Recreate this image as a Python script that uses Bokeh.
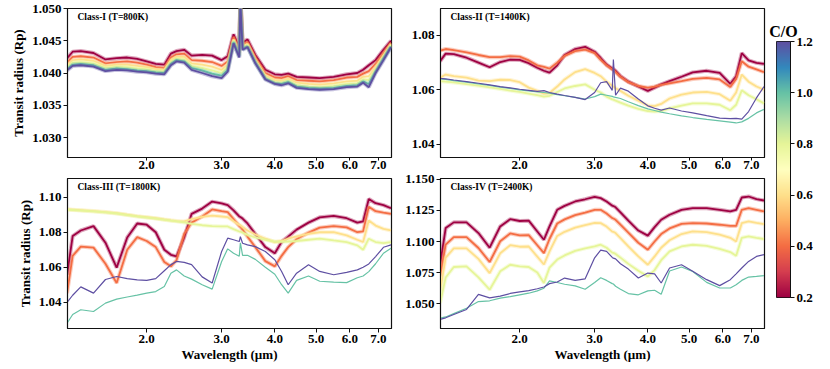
import numpy as np
from bokeh.plotting import figure
from bokeh.models import Range1d, FixedTicker, PrintfTickFormatter, Label, LinearAxis, LinearColorMapper
from bokeh.layouts import row, column
from bokeh.embed import file_html
from bokeh.resources import INLINE

# ---------------- data ----------------
co_values = [0.2, 0.4, 0.6, 0.8, 1.0, 1.2]
wavelength = [1.30, 1.34, 1.40, 1.50, 1.60, 1.70, 1.80, 1.90,
              2.00, 2.10, 2.20, 2.28, 2.35, 2.45, 2.55, 2.70,
              2.85, 3.00, 3.10, 3.20, 3.30, 3.32, 3.36, 3.45,
              3.60, 3.80, 4.00, 4.15, 4.30, 4.50, 4.80, 5.10,
              5.50, 5.90, 6.25, 6.45, 6.65, 6.90, 7.20, 7.50]

# Class-I (T=800K)
p1_co02 = [1.0423, 1.0433, 1.0434, 1.0431, 1.0421, 1.0423, 1.0424, 1.0422,
           1.0418, 1.0414, 1.0413, 1.0430, 1.0434, 1.0436, 1.0427, 1.0428,
           1.0427, 1.0420, 1.0426, 1.0460, 1.0440, 1.0520, 1.0447, 1.0452,
           1.0428, 1.0405, 1.0398, 1.0397, 1.0399, 1.0394, 1.0393, 1.0392,
           1.0394, 1.0398, 1.0400, 1.0405, 1.0412, 1.0420, 1.0436, 1.0450]
p1_co04 = [1.0416, 1.0425, 1.0426, 1.0424, 1.0415, 1.0417, 1.0418, 1.0416,
           1.0413, 1.0409, 1.0408, 1.0424, 1.0429, 1.0430, 1.0420, 1.0419,
           1.0417, 1.0411, 1.0418, 1.0456, 1.0435, 1.0518, 1.0444, 1.0448,
           1.0424, 1.0400, 1.0393, 1.0392, 1.0395, 1.0389, 1.0388, 1.0387,
           1.0389, 1.0393, 1.0394, 1.0399, 1.0403, 1.0414, 1.0431, 1.0447]
p1_co06 = [1.0412, 1.0420, 1.0421, 1.0419, 1.0411, 1.0413, 1.0413, 1.0411,
           1.0409, 1.0406, 1.0405, 1.0420, 1.0425, 1.0425, 1.0415, 1.0413,
           1.0410, 1.0405, 1.0413, 1.0452, 1.0431, 1.0516, 1.0441, 1.0445,
           1.0420, 1.0396, 1.0389, 1.0388, 1.0391, 1.0385, 1.0383, 1.0382,
           1.0384, 1.0387, 1.0388, 1.0394, 1.0395, 1.0409, 1.0427, 1.0445]
p1_co08 = [1.0409, 1.0416, 1.0417, 1.0415, 1.0408, 1.0410, 1.0409, 1.0407,
           1.0406, 1.0403, 1.0402, 1.0417, 1.0422, 1.0421, 1.0411, 1.0408,
           1.0404, 1.0400, 1.0409, 1.0450, 1.0428, 1.0514, 1.0439, 1.0443,
           1.0418, 1.0393, 1.0386, 1.0385, 1.0388, 1.0381, 1.0379, 1.0378,
           1.0380, 1.0383, 1.0384, 1.0390, 1.0389, 1.0405, 1.0424, 1.0443]
p1_co10 = [1.0406, 1.0413, 1.0414, 1.0412, 1.0405, 1.0407, 1.0406, 1.0404,
           1.0403, 1.0401, 1.0400, 1.0414, 1.0420, 1.0418, 1.0408, 1.0404,
           1.0399, 1.0396, 1.0405, 1.0448, 1.0426, 1.0512, 1.0437, 1.0441,
           1.0416, 1.0391, 1.0384, 1.0383, 1.0386, 1.0379, 1.0377, 1.0376,
           1.0377, 1.0380, 1.0381, 1.0387, 1.0383, 1.0402, 1.0422, 1.0441]
p1_co12 = [1.0404, 1.0411, 1.0412, 1.0410, 1.0403, 1.0405, 1.0404, 1.0402,
           1.0401, 1.0399, 1.0398, 1.0412, 1.0418, 1.0416, 1.0405, 1.0400,
           1.0395, 1.0392, 1.0402, 1.0446, 1.0424, 1.0510, 1.0436, 1.0440,
           1.0415, 1.0390, 1.0383, 1.0381, 1.0384, 1.0377, 1.0375, 1.0374,
           1.0375, 1.0378, 1.0379, 1.0385, 1.0378, 1.0400, 1.0420, 1.0440]

# Class-II (T=1400K)
p2_co02 = [1.0705, 1.0733, 1.0731, 1.0718, 1.0700, 1.0683, 1.0702, 1.0711,
           1.0710, 1.0698, 1.0681, 1.0670, 1.0663, 1.0690, 1.0728, 1.0750,
           1.0758, 1.0740, 1.0717, 1.0693, 1.0678, 1.0676, 1.0670, 1.0650,
           1.0630, 1.0612, 1.0596, 1.0608, 1.0620, 1.0632, 1.0648, 1.0664,
           1.0670, 1.0662, 1.0622, 1.0650, 1.0735, 1.0708, 1.0699, 1.0695]
p2_co04 = [1.0744, 1.0750, 1.0746, 1.0738, 1.0728, 1.0720, 1.0720, 1.0724,
           1.0722, 1.0708, 1.0690, 1.0684, 1.0678, 1.0700, 1.0725, 1.0742,
           1.0748, 1.0735, 1.0710, 1.0690, 1.0675, 1.0673, 1.0665, 1.0648,
           1.0628, 1.0614, 1.0608, 1.0612, 1.0618, 1.0624, 1.0632, 1.0640,
           1.0644, 1.0638, 1.0610, 1.0640, 1.0705, 1.0685, 1.0675, 1.0665]
p2_co06 = [1.0644, 1.0656, 1.0650, 1.0645, 1.0634, 1.0632, 1.0637, 1.0636,
           1.0628, 1.0608, 1.0596, 1.0586, 1.0588, 1.0612, 1.0638, 1.0665,
           1.0676, 1.0662, 1.0650, 1.0630, 1.0615, 1.0612, 1.0606, 1.0596,
           1.0578, 1.0560, 1.0542, 1.0540, 1.0548, 1.0568, 1.0582, 1.0590,
           1.0592, 1.0584, 1.0560, 1.0590, 1.0656, 1.0630, 1.0612, 1.0600]
p2_co08 = [1.0632, 1.0630, 1.0627, 1.0621, 1.0615, 1.0609, 1.0603, 1.0597,
           1.0592, 1.0586, 1.0580, 1.0575, 1.0578, 1.0592, 1.0605, 1.0614,
           1.0620, 1.0600, 1.0590, 1.0575, 1.0565, 1.0564, 1.0560, 1.0553,
           1.0542, 1.0530, 1.0522, 1.0520, 1.0522, 1.0532, 1.0542, 1.0550,
           1.0550, 1.0545, 1.0525, 1.0545, 1.0598, 1.0580, 1.0565, 1.0550]
p2_co10 = [1.0640, 1.0638, 1.0634, 1.0628, 1.0622, 1.0616, 1.0610, 1.0605,
           1.0600, 1.0596, 1.0592, 1.0590, 1.0588, 1.0582, 1.0578, 1.0572,
           1.0566, 1.0575, 1.0584, 1.0580, 1.0576, 1.0574, 1.0572, 1.0568,
           1.0556, 1.0542, 1.0530, 1.0524, 1.0518, 1.0512, 1.0504, 1.0498,
           1.0491, 1.0486, 1.0481, 1.0478, 1.0482, 1.0495, 1.0515, 1.0528]
p2_co12 = [1.0642, 1.0640, 1.0636, 1.0630, 1.0624, 1.0618, 1.0612, 1.0607,
           1.0602, 1.0598, 1.0594, 1.0597, 1.0590, 1.0584, 1.0579, 1.0572,
           1.0564, 1.0590, 1.0626, 1.0630, 1.0598, 1.0711, 1.0580, 1.0606,
           1.0595, 1.0566, 1.0541, 1.0532, 1.0525, 1.0533, 1.0522, 1.0515,
           1.0505, 1.0496, 1.0494, 1.0495, 1.0492, 1.0520, 1.0570, 1.0612]

# Class-III (T=1800K)
p3_co02 = [1.0557, 1.0778, 1.0810, 1.0835, 1.0740, 1.0598, 1.0770, 1.0850,
           1.0843, 1.0800, 1.0700, 1.0671, 1.0662, 1.0770, 1.0905, 1.0935,
           1.0975, 1.0965, 1.0955, 1.0925, 1.0890, 1.0887, 1.0878, 1.0850,
           1.0790, 1.0715, 1.0680, 1.0745, 1.0775, 1.0815, 1.0855, 1.0885,
           1.0893, 1.0880, 1.0855, 1.0862, 1.0990, 1.0966, 1.0955, 1.0937]
p3_co04 = [1.0452, 1.0665, 1.0718, 1.0712, 1.0620, 1.0510, 1.0700, 1.0772,
           1.0750, 1.0715, 1.0630, 1.0605, 1.0640, 1.0790, 1.0855, 1.0890,
           1.0930, 1.0920, 1.0915, 1.0875, 1.0835, 1.0830, 1.0815, 1.0775,
           1.0715, 1.0635, 1.0605, 1.0665, 1.0715, 1.0760, 1.0798, 1.0826,
           1.0835, 1.0828, 1.0800, 1.0805, 1.0945, 1.0920, 1.0912, 1.0905]
p3_co06 = [1.0931, 1.0929, 1.0926, 1.0921, 1.0915, 1.0909, 1.0900, 1.0892,
           1.0886, 1.0880, 1.0873, 1.0868, 1.0864, 1.0862, 1.0875, 1.0888,
           1.0895, 1.0890, 1.0886, 1.0863, 1.0842, 1.0840, 1.0830, 1.0810,
           1.0787, 1.0763, 1.0744, 1.0750, 1.0763, 1.0776, 1.0791, 1.0800,
           1.0800, 1.0782, 1.0757, 1.0744, 1.0867, 1.0838, 1.0819, 1.0810]
p3_co08 = [1.0929, 1.0927, 1.0924, 1.0919, 1.0913, 1.0907, 1.0898, 1.0890,
           1.0884, 1.0878, 1.0871, 1.0866, 1.0862, 1.0856, 1.0848, 1.0840,
           1.0835, 1.0833, 1.0833, 1.0818, 1.0804, 1.0803, 1.0798, 1.0785,
           1.0770, 1.0757, 1.0747, 1.0745, 1.0747, 1.0750, 1.0757, 1.0763,
           1.0753, 1.0744, 1.0725, 1.0700, 1.0763, 1.0744, 1.0738, 1.0744]
p3_co10 = [1.0280, 1.0330, 1.0357, 1.0347, 1.0395, 1.0418, 1.0430, 1.0441,
           1.0452, 1.0461, 1.0490, 1.0566, 1.0585, 1.0550, 1.0532, 1.0500,
           1.0475, 1.0633, 1.0705, 1.0680, 1.0663, 1.0740, 1.0668, 1.0668,
           1.0645, 1.0600, 1.0560, 1.0500, 1.0452, 1.0525, 1.0550, 1.0520,
           1.0515, 1.0512, 1.0540, 1.0550, 1.0575, 1.0620, 1.0680, 1.0709]
p3_co12 = [1.0399, 1.0440, 1.0488, 1.0452, 1.0530, 1.0547, 1.0535, 1.0528,
           1.0525, 1.0535, 1.0580, 1.0615, 1.0633, 1.0628, 1.0615, 1.0545,
           1.0510, 1.0690, 1.0766, 1.0757, 1.0747, 1.0775, 1.0737, 1.0728,
           1.0718, 1.0690, 1.0643, 1.0576, 1.0500, 1.0566, 1.0614, 1.0576,
           1.0557, 1.0571, 1.0585, 1.0600, 1.0619, 1.0661, 1.0714, 1.0728]

# Class-IV (T=2400K)
p4_co02 = [1.0813, 1.1108, 1.1154, 1.1154, 1.1068, 1.0950, 1.1121, 1.1180,
           1.1165, 1.1168, 1.1081, 1.1014, 1.1121, 1.1255, 1.1287, 1.1322,
           1.1340, 1.1360, 1.1349, 1.1322, 1.1288, 1.1285, 1.1275, 1.1235,
           1.1168, 1.1088, 1.1047, 1.1116, 1.1175, 1.1215, 1.1255, 1.1268,
           1.1268, 1.1255, 1.1242, 1.1255, 1.1354, 1.1362, 1.1341, 1.1330]
p4_co04 = [1.0720, 1.0975, 1.1035, 1.1035, 1.0948, 1.0835, 1.1002, 1.1065,
           1.1050, 1.1052, 1.0970, 1.0907, 1.1020, 1.1145, 1.1178, 1.1212,
           1.1232, 1.1255, 1.1255, 1.1225, 1.1188, 1.1185, 1.1175, 1.1135,
           1.1072, 1.0990, 1.0934, 1.1000, 1.1060, 1.1105, 1.1142, 1.1148,
           1.1145, 1.1135, 1.1125, 1.1125, 1.1255, 1.1268, 1.1255, 1.1242]
p4_co06 = [1.0600, 1.0870, 1.0945, 1.0945, 1.0860, 1.0746, 1.0905, 1.0970,
           1.0958, 1.0960, 1.0878, 1.0815, 1.0920, 1.1045, 1.1078, 1.1112,
           1.1132, 1.1150, 1.1148, 1.1120, 1.1080, 1.1078, 1.1068, 1.1028,
           1.0960, 1.0880, 1.0813, 1.0880, 1.0950, 1.1010, 1.1060, 1.1081,
           1.1075, 1.1055, 1.1030, 1.1000, 1.1148, 1.1162, 1.1150, 1.1140]
p4_co08 = [1.0505, 1.0710, 1.0795, 1.0800, 1.0712, 1.0612, 1.0760, 1.0813,
           1.0800, 1.0795, 1.0750, 1.0666, 1.0790, 1.0855, 1.0888, 1.0925,
           1.0945, 1.0960, 1.0974, 1.0950, 1.0910, 1.0908, 1.0900, 1.0870,
           1.0820, 1.0765, 1.0719, 1.0770, 1.0850, 1.0920, 1.0960, 1.0974,
           1.0965, 1.0940, 1.0915, 1.0885, 1.1030, 1.1041, 1.1030, 1.1020]
p4_co10 = [1.0384, 1.0393, 1.0420, 1.0463, 1.0517, 1.0523, 1.0544, 1.0557,
           1.0571, 1.0584, 1.0603, 1.0624, 1.0683, 1.0670, 1.0656, 1.0643,
           1.0616, 1.0670, 1.0709, 1.0687, 1.0661, 1.0658, 1.0640, 1.0616,
           1.0581, 1.0571, 1.0603, 1.0608, 1.0576, 1.0763, 1.0795, 1.0759,
           1.0671, 1.0626, 1.0626, 1.0652, 1.0687, 1.0714, 1.0719, 1.0725]
p4_co12 = [1.0373, 1.0386, 1.0413, 1.0453, 1.0574, 1.0547, 1.0560, 1.0582,
           1.0595, 1.0605, 1.0620, 1.0634, 1.0661, 1.0674, 1.0706, 1.0687,
           1.0700, 1.0869, 1.0930, 1.0920, 1.0872, 1.0866, 1.0860, 1.0821,
           1.0778, 1.0706, 1.0746, 1.0740, 1.0666, 1.0787, 1.0813, 1.0760,
           1.0693, 1.0645, 1.0693, 1.0740, 1.0787, 1.0840, 1.0880, 1.0894]

panel_titles = ["Class-I (T=800K)", "Class-II (T=1400K)", "Class-III (T=1800K)", "Class-IV (T=2400K)"]
x_ticks = [2.0, 3.0, 4.0, 5.0, 6.0, 7.0]
p1_yticks = [1.030, 1.035, 1.040, 1.045, 1.050]
p2_yticks = [1.04, 1.06, 1.08]
p3_yticks = [1.04, 1.06, 1.08, 1.10]
p4_yticks = [1.050, 1.075, 1.100, 1.125, 1.150]
cbar_ticks = [0.2, 0.4, 0.6, 0.8, 1.0, 1.2]

# ---------------- style ----------------
FONT = "Liberation Serif"
SPECTRAL = ["#9e0142", "#d53e4f", "#f46d43", "#fdae61", "#fee08b", "#ffffbf",
            "#e6f598", "#abdda4", "#66c2a5", "#3288bd", "#5e4fa2"]
CO_LO, CO_HI = 0.2, 1.2
XMIN, XMAX = 1.303, 7.52
INK = "#111111"


def _rgb(h):
    return tuple(int(h[i:i + 2], 16) for i in (1, 3, 5))


def spectral(t):
    t = min(max(t, 0.0), 1.0) * (len(SPECTRAL) - 1)
    i = int(np.floor(t))
    if i >= len(SPECTRAL) - 1:
        return SPECTRAL[-1]
    f = t - i
    a, b = _rgb(SPECTRAL[i]), _rgb(SPECTRAL[i + 1])
    return "#%02x%02x%02x" % tuple(int(round(a[k] + (b[k] - a[k]) * f)) for k in range(3))


def co_color(co):
    return spectral((co - CO_LO) / (CO_HI - CO_LO))


def make_panel(title, curves, ylo, yhi, yticks, yfmt, width, fh,
               mbl, mbr, mbt, mbb, ylabel, xlabel, thick, margin, xtick, xstand):
    fw = width - mbl - mbr
    p = figure(width=width, height=mbt + fh + mbb, x_axis_type="log",
               x_range=Range1d(XMIN, XMAX), y_range=Range1d(ylo, yhi),
               output_backend="svg", toolbar_location=None,
               min_border_left=mbl, min_border_right=mbr,
               min_border_top=mbt, min_border_bottom=mbb, margin=margin)
    p.grid.visible = False
    p.outline_line_color = INK
    p.outline_line_width = 1.2
    p.background_fill_color = "white"
    p.border_fill_color = None

    for k, (co, vals) in enumerate(zip(co_values, curves)):
        c = co_color(co)
        if thick[k]:
            p.line(wavelength, vals, line_color=c, line_width=4.0, line_alpha=0.35)
            p.line(wavelength, vals, line_color=c, line_width=1.8)
        else:
            p.line(wavelength, vals, line_color=c, line_width=1.2)

    for ax in (p.xaxis[0], p.yaxis[0]):
        ax.axis_line_color = INK
        ax.major_tick_line_color = INK
        ax.major_tick_in = 0
        ax.major_tick_out = 4
        ax.minor_tick_line_color = None
        ax.major_label_text_font = FONT
        ax.major_label_text_font_style = "bold"
        ax.major_label_text_font_size = "13px"
        ax.major_label_text_color = "black"
        ax.axis_label_text_font = FONT
        ax.axis_label_text_font_style = "bold"
        ax.axis_label_text_font_size = "13px"
        ax.axis_label_text_color = "black"
        ax.major_label_standoff = 2
        ax.axis_label_standoff = 3
    p.xaxis.major_tick_out = xtick
    p.xaxis.major_label_standoff = xstand
    p.xaxis.axis_label_standoff = 1

    p.xaxis.ticker = FixedTicker(ticks=x_ticks, minor_ticks=[])
    p.xaxis.formatter = PrintfTickFormatter(format="%.1f")
    p.yaxis.ticker = FixedTicker(ticks=yticks, minor_ticks=[])
    p.yaxis.formatter = PrintfTickFormatter(format=yfmt)
    if ylabel:
        p.yaxis.axis_label = ylabel
    if xlabel:
        p.xaxis.axis_label = xlabel

    # panel title, 10px from frame left, 8px below frame top
    lx = 10 ** (np.log10(XMIN) + 10.0 / fw * np.log10(XMAX / XMIN))
    ly = yhi - (yhi - ylo) * 8.0 / fh
    p.add_layout(Label(x=lx, y=ly, text=title, text_font=FONT, text_font_style="bold",
                       text_font_size="9.5px", text_baseline="middle", text_align="left",
                       text_color="black"))
    return p


ALL_THICK = [True] * 6
SPLIT = [True, True, True, True, False, False]
TOP_MARGIN = (0, 0, 0, 0)
BOT_MARGIN = (-17, 0, 0, 0)

# top row: canvas 0..187, frame 8..157 ; bottom row: canvas 170..366, frame 178..328
p1 = make_panel(panel_titles[0], [p1_co02, p1_co04, p1_co06, p1_co08, p1_co10, p1_co12],
                1.0269, 1.0500, p1_yticks, "%.3f", 399, 149, 67, 8, 8, 30,
                "Transit radius (Rp)", None, ALL_THICK, TOP_MARGIN, 3, 0)
p2 = make_panel(panel_titles[1], [p2_co02, p2_co04, p2_co06, p2_co08, p2_co10, p2_co12],
                1.0351, 1.0899, p2_yticks, "%.2f", 369, 149, 41, 4, 8, 30,
                None, None, SPLIT, TOP_MARGIN, 3, 0)
p3 = make_panel(panel_titles[2], [p3_co02, p3_co04, p3_co06, p3_co08, p3_co10, p3_co12],
                1.0250, 1.1107, p3_yticks, "%.2f", 399, 150, 67, 8, 8, 38,
                "Transit radius (Rp)", "Wavelength (\u00b5m)", SPLIT, BOT_MARGIN, 4, 2)
p4 = make_panel(panel_titles[3], [p4_co02, p4_co04, p4_co06, p4_co08, p4_co10, p4_co12],
                1.0300, 1.1507, p4_yticks, "%.3f", 369, 150, 41, 4, 8, 38,
                None, "Wavelength (\u00b5m)", SPLIT, BOT_MARGIN, 4, 2)

# ---------------- colour bar ----------------
cb = figure(width=54, height=308, x_range=Range1d(0, 1), y_range=Range1d(CO_LO, CO_HI),
            output_backend="svg", toolbar_location=None,
            x_axis_location=None, y_axis_location=None,
            min_border_left=8, min_border_right=32, min_border_top=41, min_border_bottom=11,
            title="C/O")
cb.grid.visible = False
cb.outline_line_color = INK
cb.border_fill_color = None
cb.title.text_font = FONT
cb.title.text_font_style = "bold"
cb.title.text_font_size = "16px"
cb.title.align = "center"
cb.title.text_color = "black"
cb.title.standoff = 4
palette = [spectral(t) for t in np.linspace(0, 1, 256)]
mapper = LinearColorMapper(palette=palette, low=CO_LO, high=CO_HI)
grad = np.linspace(CO_LO, CO_HI, 256).reshape(-1, 1)
cb.image(image=[grad], x=0, y=CO_LO, dw=1, dh=CO_HI - CO_LO, color_mapper=mapper)
cax = LinearAxis(ticker=FixedTicker(ticks=cbar_ticks, minor_ticks=[]),
                 formatter=PrintfTickFormatter(format="%.1f"))
cax.axis_line_color = INK
cax.major_tick_line_color = INK
cax.major_tick_in = 0
cax.major_tick_out = 4
cax.major_label_standoff = 2
cax.major_label_text_font = FONT
cax.major_label_text_font_style = "bold"
cax.major_label_text_font_size = "13px"
cax.major_label_text_color = "black"
cb.add_layout(cax, "right")

layout = row(column(p1, p3), column(p2, p4), cb)

with open("out.html", "w") as f:
    f.write(file_html(layout, INLINE))
